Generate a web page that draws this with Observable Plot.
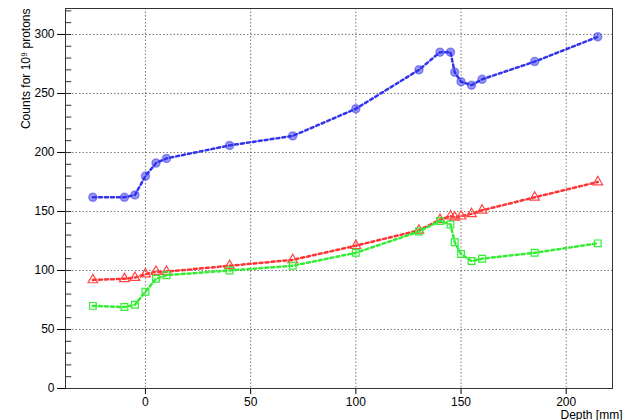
<!DOCTYPE html>
<html><head>
<script src="https://cdn.jsdelivr.net/npm/d3@7"></script>
<script src="https://cdn.jsdelivr.net/npm/@observablehq/plot@0.6"></script>
<style>body{margin:0;background:#fff}</style>
</head><body><div id="chart"></div>
<script>
const depth = [-25, -10, -5, 0, 5, 10, 40, 70, 100, 130, 140, 145, 147, 150, 155, 160, 185, 215];
const blue  = [162, 162, 164, 180, 191, 195, 206, 214, 237, 270, 285, 285, 268, 260, 257, 262, 277, 298];
const red   = [92, 93, 94, 97, 99, 99, 104, 109, 121, 134, 143, 146, 145, 146, 148, 151, 162, 175];
const green = [70, 69, 71, 82, 93, 96, 100, 104, 115, 133, 142, 139, 124, 114, 108, 110, 115, 123];
const minorY = d3.range(0, 325, 10);

const rows = (vals) => depth.map((d, i) => ({x: d, y: vals[i]}));
const b = rows(blue), r = rows(red), g = rows(green);

const chart = Plot.plot({
  width: 625, height: 420,
  marginLeft: 65, marginRight: 13, marginTop: 8, marginBottom: 32,
  style: {fontFamily: "Liberation Sans, Arial", fontSize: "12px"},
  x: {domain: [-38, 222], ticks: [0, 50, 100, 150, 200], label: "Depth [mm]", labelAnchor: "right", labelArrow: "none", labelOffset: 30, tickSize: 6},
  y: {domain: [0, 322], ticks: [0, 50, 100, 150, 200, 250, 300], label: null, tickSize: 8},
  marks: [
    Plot.gridX([0, 50, 100, 150, 200], {stroke: "#555", strokeOpacity: 0.8, strokeDasharray: "1.5,2"}),
    Plot.gridY([50, 100, 150, 200, 250, 300], {stroke: "#555", strokeOpacity: 0.8, strokeDasharray: "1.5,2"}),
    Plot.ruleY(minorY, {y: d => d, x1: -38, x2: -35, stroke: "#333"}),
    Plot.frame({stroke: "#333"}),
    Plot.text(["Counts for 10⁹ protons"], {frameAnchor: "top-left", rotate: -90, textAnchor: "end", dx: -44, dy: 0, fontSize: 12}),
    Plot.line(b, {x: "x", y: "y", stroke: "#3333ee", strokeWidth: 2.5, strokeDasharray: "3,3"}),
    Plot.dot(b, {x: "x", y: "y", r: 4, fill: "#3333ee", fillOpacity: 0.5, stroke: "#3333ee", strokeOpacity: 0.5}),
    Plot.line(r, {x: "x", y: "y", stroke: "#ff3333", strokeWidth: 2.5, strokeDasharray: "3,3"}),
    Plot.dot(r, {x: "x", y: "y", symbol: "triangle", r: 3.6, fill: "none", stroke: "#ff4444", strokeWidth: 1.2}),
    Plot.line(g, {x: "x", y: "y", stroke: "#33ee33", strokeWidth: 2.5, strokeDasharray: "3,3"}),
    Plot.dot(g, {x: "x", y: "y", symbol: "square", r: 3.8, fill: "none", stroke: "#33ee33", strokeWidth: 1.2})
  ]
});
document.getElementById("chart").append(chart);
</script></body></html>
